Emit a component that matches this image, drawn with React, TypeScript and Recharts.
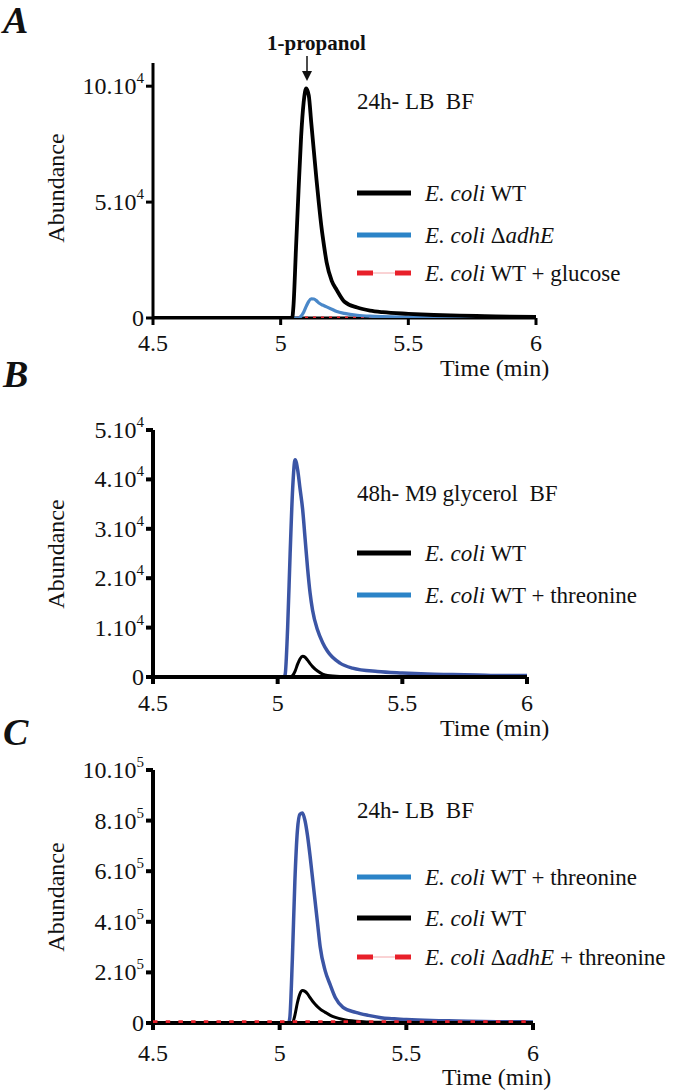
import React from "react";
import { LineChart, Line, XAxis, YAxis } from "recharts";

// ---- data ----
const timeA = [4.5, 4.7, 4.9, 5.0, 5.045, 5.05, 5.06, 5.07, 5.08, 5.09, 5.1, 5.11, 5.12, 5.13, 5.14, 5.15, 5.16, 5.17, 5.18, 5.2, 5.22, 5.25, 5.3, 5.35, 5.4, 5.5, 5.6, 5.7, 5.8, 5.9, 6.0];
const wtA = [0, 0, 0, 0, 0, 5000, 30000, 55000, 78000, 93000, 99000, 96000, 84000, 72000, 60000, 49000, 39000, 31000, 24000, 16000, 12000, 7000, 4500, 3200, 2500, 1800, 1300, 1000, 800, 600, 500];
const adhEA = [0, 0, 0, 0, 0, 0, 0, 0, 800, 2500, 5000, 7200, 8300, 8200, 7500, 6500, 5800, 5300, 4800, 3800, 2800, 2000, 1200, 800, 600, 400, 300, 250, 200, 200, 200];
const glucoseA = [0, 0, 0, 0, 0, 0, 0, 0, 0, 0, 0, 0, 0, 0, 0, 0, 0, 0, 0, 0, 0, 0, 0, 0, 0, 0, 0, 0, 0, 0, 0];

const timeB = [4.5, 4.7, 4.9, 5.0, 5.025, 5.03, 5.04, 5.05, 5.06, 5.07, 5.08, 5.09, 5.1, 5.11, 5.12, 5.13, 5.14, 5.16, 5.18, 5.2, 5.25, 5.3, 5.4, 5.5, 5.6, 5.7, 5.8, 5.9, 6.0];
const wtB = [0, 0, 0, 0, 0, 0, 0, 0, 300, 1200, 2600, 3700, 4200, 4000, 3400, 2700, 2100, 1200, 600, 300, 100, 50, 0, 0, 0, 0, 0, 0, 0];
const thrB = [0, 0, 0, 0, 0, 500, 10000, 25000, 38000, 44000, 42000, 38000, 34000, 28000, 22000, 17000, 13500, 9500, 7000, 5200, 2800, 1800, 1100, 800, 600, 500, 400, 300, 300];

const timeC = [4.5, 4.7, 4.9, 5.0, 5.035, 5.04, 5.05, 5.06, 5.07, 5.08, 5.09, 5.1, 5.11, 5.12, 5.13, 5.14, 5.15, 5.16, 5.18, 5.2, 5.22, 5.25, 5.3, 5.35, 5.4, 5.5, 5.6, 5.7, 5.8, 5.9, 6.0];
const thrC = [0, 0, 0, 0, 0, 20000, 250000, 560000, 760000, 825000, 830000, 800000, 740000, 660000, 570000, 480000, 390000, 300000, 205000, 150000, 100000, 62000, 42000, 30000, 21000, 14000, 10000, 8000, 6000, 5000, 4000];
const wtC = [0, 0, 0, 0, 0, 0, 0, 30000, 80000, 115000, 128000, 125000, 115000, 100000, 86000, 74000, 64000, 55000, 42000, 30000, 22000, 14000, 7000, 4000, 2500, 1200, 800, 500, 400, 300, 200];
const adhEThrC = [0, 0, 0, 0, 0, 0, 0, 0, 0, 0, 0, 0, 0, 0, 0, 0, 0, 0, 0, 0, 0, 0, 0, 0, 0, 0, 0, 0, 0, 0, 0];

const xTicks = [4.5, 5, 5.5, 6];
const xLabels = ["4.5", "5", "5.5", "6"];
const yTicksA = [0, 50000, 100000];
const yLabelsA = ["0", "5.10^4", "10.10^4"];
const yTicksB = [0, 10000, 20000, 30000, 40000, 50000];
const yLabelsB = ["0", "1.10^4", "2.10^4", "3.10^4", "4.10^4", "5.10^4"];
const yTicksC = [0, 200000, 400000, 600000, 800000, 1000000];
const yLabelsC = ["0", "2.10^5", "4.10^5", "6.10^5", "8.10^5", "10.10^5"];

const dataA = timeA.map((t, i) => ({ t, wt: wtA[i], adhE: adhEA[i], glucose: glucoseA[i] }));
const dataB = timeB.map((t, i) => ({ t, wt: wtB[i], thr: thrB[i] }));
const dataC = timeC.map((t, i) => ({ t, thr: thrC[i], wt: wtC[i], adhEThr: adhEThrC[i] }));

const FONT = "'Liberation Serif', 'Times New Roman', Times, serif";
const BLACK = "#000000";
const BLUE_A = "#4a88c9";
const BLUE_DARK = "#3b55a5";
const BLUE_KEY = "#2b84c8";
const RED = "#e8202a";

function YTick(props: any) {
  const { x, y, payload, ticks, labels } = props;
  const i = ticks.indexOf(payload.value);
  const [base, exp] = (labels[i] || "").split("^");
  return (
    <text x={x} y={y} dy={8} textAnchor="end" fontSize={24} fontFamily={FONT} fill="#111">
      {base}
      {exp && (
        <tspan fontSize={15} dy={-11}>
          {exp}
        </tspan>
      )}
    </text>
  );
}

function XTick(props: any) {
  const { x, y, payload, off } = props;
  const i = xTicks.indexOf(payload.value);
  return (
    <text x={x} y={y} dy={off} textAnchor="middle" fontSize={24} fontFamily={FONT} fill="#111">
      {xLabels[i]}
    </text>
  );
}

function Abs({ left, top, size = 23, style, children }: any) {
  return (
    <div
      style={{
        position: "absolute",
        left,
        top: top - size / 2,
        fontSize: size,
        lineHeight: `${size}px`,
        fontFamily: FONT,
        whiteSpace: "pre",
        color: "#111",
        ...style,
      }}
    >
      {children}
    </div>
  );
}

function KeyRow({ y, kind, color, children }: any) {
  return (
    <>
      <svg style={{ position: "absolute", left: 355, top: y - 6 }} width={58} height={12}>
        {kind === "dash" ? (
          <>
            <line x1={2} y1={6} x2={56} y2={6} stroke="#f4a6a9" strokeWidth={1} />
            <line x1={2} y1={6} x2={18} y2={6} stroke={color} strokeWidth={5} />
            <line x1={40} y1={6} x2={56} y2={6} stroke={color} strokeWidth={5} />
          </>
        ) : (
          <line x1={2} y1={6} x2={56} y2={6} stroke={color} strokeWidth={5} />
        )}
      </svg>
      <Abs left={425} top={y}>
        {children}
      </Abs>
    </>
  );
}

const Ec = () => <i>E. coli</i>;

function Panel({ top, height, margin, data, yDomain, yTicks, yLabels, axisW, xOff, children }: any) {
  return (
    <div style={{ position: "absolute", left: 0, top }}>
      <LineChart width={675} height={height} data={data} margin={margin}>
        <XAxis
          dataKey="t"
          type="number"
          domain={[4.5, 6]}
          ticks={xTicks}
          allowDataOverflow
          height={40}
          tickSize={7}
          axisLine={{ stroke: BLACK, strokeWidth: axisW }}
          tickLine={{ stroke: BLACK, strokeWidth: axisW }}
          tick={(p: any) => <XTick {...p} off={xOff} />}
        />
        <YAxis
          type="number"
          domain={yDomain}
          ticks={yTicks}
          allowDataOverflow
          width={153}
          tickSize={7}
          axisLine={{ stroke: BLACK, strokeWidth: axisW }}
          tickLine={{ stroke: BLACK, strokeWidth: axisW }}
          tick={(p: any) => <YTick {...p} ticks={yTicks} labels={yLabels} />}
        />
        {children}
      </LineChart>
    </div>
  );
}

export default function App() {
  return (
    <div style={{ position: "absolute", left: 0, top: 0, width: 675, height: 1090, background: "#fff", overflow: "hidden" }}>
      {/* Panel A */}
      <Panel
        top={0}
        height={380}
        margin={{ top: 63, right: 139, bottom: 22, left: 0 }}
        data={dataA}
        yDomain={[0, 110000]}
        yTicks={yTicksA}
        yLabels={yLabelsA}
        axisW={3}
        xOff={24}
      >
        <Line type="monotone" dataKey="glucose" stroke={RED} strokeWidth={3} strokeDasharray="3 5" dot={false} isAnimationActive={false} zIndex={700} />
        <Line type="monotone" dataKey="adhE" stroke={BLUE_A} strokeWidth={3.2} dot={false} isAnimationActive={false} zIndex={800} />
        <Line type="monotone" dataKey="wt" stroke={BLACK} strokeWidth={3.8} dot={false} isAnimationActive={false} zIndex={900} />
      </Panel>

      {/* Panel B */}
      <Panel
        top={360}
        height={360}
        margin={{ top: 70, right: 148, bottom: 3, left: 0 }}
        data={dataB}
        yDomain={[0, 50000]}
        yTicks={yTicksB}
        yLabels={yLabelsB}
        axisW={4}
        xOff={25}
      >
        <Line type="monotone" dataKey="thr" stroke={BLUE_DARK} strokeWidth={3.5} dot={false} isAnimationActive={false} />
        <Line type="monotone" dataKey="wt" stroke={BLACK} strokeWidth={3} dot={false} isAnimationActive={false} />
      </Panel>

      {/* Panel C */}
      <Panel
        top={720}
        height={360}
        margin={{ top: 50, right: 142, bottom: 17, left: 0 }}
        data={dataC}
        yDomain={[0, 1000000]}
        yTicks={yTicksC}
        yLabels={yLabelsC}
        axisW={4}
        xOff={29}
      >
        <Line type="monotone" dataKey="thr" stroke={BLUE_DARK} strokeWidth={3.5} dot={false} isAnimationActive={false} />
        <Line type="monotone" dataKey="wt" stroke={BLACK} strokeWidth={3} dot={false} isAnimationActive={false} />
        <Line type="monotone" dataKey="adhEThr" stroke={RED} strokeWidth={5.5} strokeDasharray="4.5 8.2" dot={false} isAnimationActive={false} zIndex={900} />
      </Panel>

      {/* panel letters */}
      <Abs left={3} top={20} size={38} style={{ fontWeight: "bold", fontStyle: "italic" }}>A</Abs>
      <Abs left={3} top={374} size={38} style={{ fontWeight: "bold", fontStyle: "italic" }}>B</Abs>
      <Abs left={3} top={732} size={38} style={{ fontWeight: "bold", fontStyle: "italic" }}>C</Abs>

      {/* y axis titles */}
      {[188, 554, 897].map((cy) => (
        <div
          key={cy}
          style={{
            position: "absolute",
            left: 56 - 70,
            top: cy - 12,
            width: 140,
            textAlign: "center",
            fontSize: 24,
            lineHeight: "24px",
            fontFamily: FONT,
            color: "#111",
            transform: "rotate(-90deg)",
          }}
        >
          Abundance
        </div>
      ))}

      {/* x axis titles */}
      <Abs left={440} top={368} size={24}>Time (min)</Abs>
      <Abs left={440} top={728} size={24}>Time (min)</Abs>
      <Abs left={442} top={1077} size={24}>Time (min)</Abs>

      {/* peak annotation A */}
      <Abs left={267} top={43} size={21} style={{ fontWeight: "bold" }}>1-propanol</Abs>
      <svg style={{ position: "absolute", left: 300, top: 55 }} width={14} height={28}>
        <line x1={7} y1={1} x2={7} y2={20} stroke="#111" strokeWidth={1.5} />
        <polygon points="2,16 12,16 7,26" fill="#111" />
      </svg>

      {/* keys A */}
      <Abs left={357} top={101}>{"24h- LB  BF"}</Abs>
      <KeyRow y={193} color={BLACK}>
        <Ec /> WT
      </KeyRow>
      <KeyRow y={235} color={BLUE_KEY}>
        <Ec /> Δ<i>adhE</i>
      </KeyRow>
      <KeyRow y={273} kind="dash" color={RED}>
        <Ec /> WT + glucose
      </KeyRow>

      {/* keys B */}
      <Abs left={357} top={493}>{"48h- M9 glycerol  BF"}</Abs>
      <KeyRow y={553} color={BLACK}>
        <Ec /> WT
      </KeyRow>
      <KeyRow y={595} color={BLUE_KEY}>
        <Ec /> WT + threonine
      </KeyRow>

      {/* keys C */}
      <Abs left={357} top={810}>{"24h- LB  BF"}</Abs>
      <KeyRow y={877} color={BLUE_KEY}>
        <Ec /> WT + threonine
      </KeyRow>
      <KeyRow y={918} color={BLACK}>
        <Ec /> WT
      </KeyRow>
      <KeyRow y={957} kind="dash" color={RED}>
        <Ec /> Δ<i>adhE</i> + threonine
      </KeyRow>
    </div>
  );
}
